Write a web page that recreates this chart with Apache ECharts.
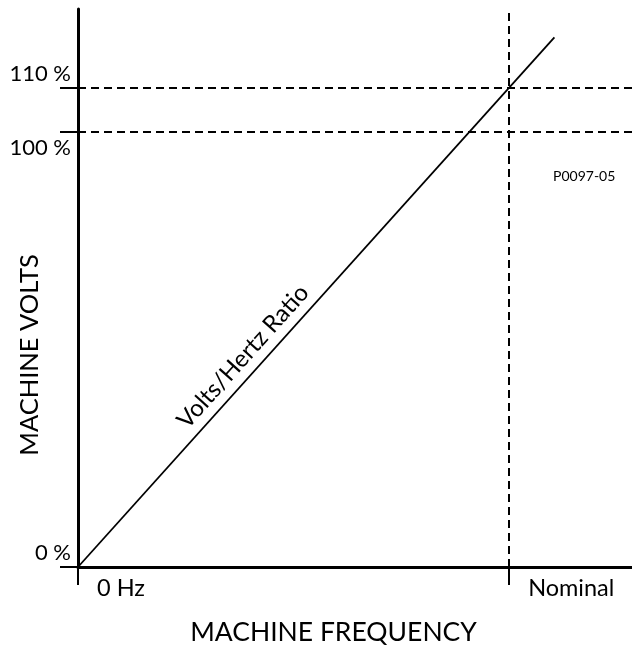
<!DOCTYPE html>
<html>
<head>
<meta charset="utf-8">
<script src="https://cdn.jsdelivr.net/npm/echarts@6/dist/echarts.min.js"></script>
<style>
html,body{margin:0;padding:0;background:#fff;}
#chart{width:632px;height:652px;}
</style>
</head>
<body>
<div id="chart"></div>
<script>
// ---- data ----
const xTickValues = [0, 100];
const xTickLabels = ['0 Hz', 'Nominal'];
const yTickValues = [0, 100, 110];
const yTickLabels = ['0 %', '100 %', '110 %'];
const ratioFreq = [0, 110.5];
const ratioVolts = [0, 121.6];
const nominalFreq = 100;
const refVolts = [100, 110];
const xMax = 128.5;
const yMax = 128.1;
const lineLabel = 'Volts/Hertz Ratio';
const xName = 'MACHINE FREQUENCY';
const yName = 'MACHINE VOLTS';
const figureId = 'P0097-05';

const FONT = 'Lato';
const ratioData = ratioFreq.map((f, i) => [f, ratioVolts[i]]);

const chart = echarts.init(document.getElementById('chart'), null, {renderer: 'canvas'});
chart.setOption({
  backgroundColor: '#ffffff',
  animation: false,
  textStyle: {fontFamily: FONT, color: '#000'},
  title: {
    text: figureId, left: 553, top: 169, padding: 0,
    textStyle: {fontFamily: FONT, fontSize: 14, fontWeight: 'normal', color: '#000'}
  },
  grid: {left: 78, right: 0, top: 9, bottom: 85, containLabel: false, outerBoundsMode: 'none'},
  xAxis: {
    type: 'value', min: 0, max: xMax,
    name: xName, nameLocation: 'middle', nameGap: 52, nameMoveOverlap: false,
    nameTextStyle: {fontFamily: FONT, fontSize: 26.5, color: '#000', padding: [0, 43, 0, 0]},
    axisLine: {show: true, onZero: false, lineStyle: {color: '#000', width: 3}},
    axisTick: {show: true, customValues: xTickValues, length: 18, lineStyle: {color: '#000', width: 2}},
    axisLabel: {
      show: true, customValues: xTickValues, margin: 9, align: 'left',
      padding: [0, 0, 0, 19],
      fontFamily: FONT, fontSize: 23.5, color: '#000',
      formatter: v => xTickLabels[xTickValues.indexOf(v)]
    },
    splitLine: {show: false}
  },
  yAxis: {
    type: 'value', min: 0, max: yMax,
    name: yName, nameLocation: 'middle', nameGap: 35, nameMoveOverlap: false,
    nameTextStyle: {fontFamily: FONT, fontSize: 25.5, color: '#000', padding: [0, 134, 0, 0]},
    axisLine: {show: true, onZero: false, lineStyle: {color: '#000', width: 3}},
    axisTick: {show: true, customValues: yTickValues, length: 18, lineStyle: {color: '#000', width: 2}},
    axisLabel: {
      show: true, customValues: yTickValues, margin: 7,
      fontFamily: FONT, fontSize: 22, color: '#000',
      formatter: v => {
        const t = yTickLabels[yTickValues.indexOf(v)];
        return v === 100 ? '{dn|' + t + '}' : '{up|' + t + '}';
      },
      rich: {
        up: {fontFamily: FONT, fontSize: 22, color: '#000', padding: [0, 0, 28, 0]},
        dn: {fontFamily: FONT, fontSize: 22, color: '#000', padding: [34, 0, 0, 0]}
      }
    },
    splitLine: {show: false}
  },
  series: [
    {
      type: 'line',
      data: ratioData,
      symbol: 'none',
      lineStyle: {color: '#000', width: 1.8},
      silent: true,
      z: 3,
      markLine: {
        silent: true,
        symbol: ['none', 'none'],
        animation: false,
        label: {show: false},
        lineStyle: {color: '#000', width: 2, type: [8, 5]},
        data: [
          ...refVolts.map(v => ({yAxis: v})),
          {xAxis: nominalFreq},
          [
            {
              coord: ratioData[0],
              lineStyle: {color: 'rgba(0,0,0,0)', width: 0, type: 'solid'},
              label: {
                show: true, position: 'insideStartTop', distance: [175, 6],
                formatter: lineLabel, fontFamily: FONT, fontSize: 24, color: '#000', opacity: 1
              }
            },
            {coord: ratioData[ratioData.length - 1]}
          ]
        ]
      }
    }
  ]
});
</script>
</body>
</html>
